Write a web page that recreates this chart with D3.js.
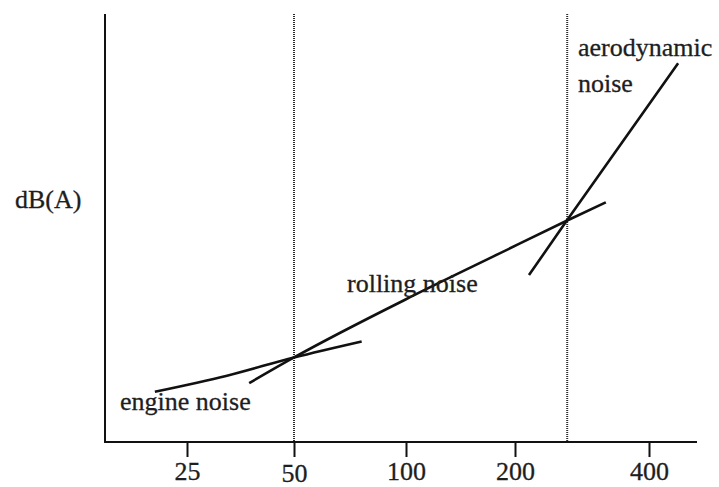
<!DOCTYPE html>
<head>
<meta charset="utf-8">
<script src="https://d3js.org/d3.v7.min.js"></script>
<style>
    body { margin: 0; background: #fff; }
    text {
        font-family: "Liberation Serif", "Times New Roman", serif;
        fill: #1e1e1e;
        stroke: #1e1e1e;
        stroke-width: 0.3px;
        font-size: 26px;
    }
    .curve {
        fill: none;
        stroke: #111;
        stroke-width: 2.6px;
    }
    .frame {
        stroke: #111;
        stroke-width: 2px;
    }
    .cross {
        stroke: #2a2a2a;
        stroke-width: 2px;
        stroke-dasharray: 1, 1;
    }
    .xAxis .tick line { stroke: #111; stroke-width: 2px; }
    .xAxis path { display: none; }
</style>
</head>
<body>
<svg width="719" height="487"></svg>
<script>
    // speed (km/h) on a log axis, sound level in dB(A) (relative, no ticks)
    var speedTicks = [25, 50, 100, 200, 400];
    var tickLabels = ["25", "50", "100", "200", "400"];

    var engineSpeed = [20.3, 32.4, 50, 76];
    var engineDb    = [59.7, 61.2, 62.9, 64.4];

    var rollingSpeed = [37.4, 50, 105, 182, 262, 320];
    var rollingDb    = [60.5, 62.9, 68.7, 72.65, 75.7, 77.4];

    var aeroSpeed = [215, 262, 465];
    var aeroDb    = [70.6, 75.75, 90.4];

    var crossSpeeds = [50, 262];

    // the hand drawn axis is not evenly spaced, so the log scale is piecewise
    var tickX = [82, 189, 301, 410, 544];

    var svg = d3.select("svg"),
        margin = {top: 14, right: 22, bottom: 45, left: 105},
        width = +svg.attr("width") - margin.left - margin.right,
        height = +svg.attr("height") - margin.top - margin.bottom,
        g = svg.append("g").attr("transform", "translate(" + margin.left + "," + margin.top + ")");

    var x = d3.scaleLog()
        .domain(speedTicks)
        .range(tickX);

    var y = d3.scaleLinear()
        .domain([55, 95])
        .range([height, 0]);

    // dotted crossover lines
    g.selectAll(".cross")
        .data(crossSpeeds)
        .enter().append("line")
        .attr("class", "cross")
        .attr("x1", function (d) { return x(d); })
        .attr("x2", function (d) { return x(d); })
        .attr("y1", 0)
        .attr("y2", height);

    // x axis
    var xAxis = g.append("g")
        .attr("class", "xAxis")
        .attr("transform", "translate(0," + height + ")")
        .call(d3.axisBottom(x)
            .tickValues(speedTicks)
            .tickFormat(function (d, i) { return tickLabels[i]; })
            .tickSize(15)
            .tickPadding(5));

    xAxis.selectAll("text")
        .attr("dy", "0.71em")
        .style("font-size", "26px");
    // the 50 label sits a little lower in the original
    xAxis.selectAll(".tick")
        .filter(function (d) { return d === 50; })
        .select("text")
        .attr("y", 22);

    // frame: y axis and x axis line
    g.append("line").attr("class", "frame")
        .attr("x1", 0).attr("x2", 0)
        .attr("y1", 0).attr("y2", height + 1);
    g.append("line").attr("class", "frame")
        .attr("x1", -1).attr("x2", width)
        .attr("y1", height).attr("y2", height);

    // noise curves
    var line = d3.line()
        .x(function (d) { return x(d[0]); })
        .y(function (d) { return y(d[1]); })
        .curve(d3.curveMonotoneX);

    var series = [
        d3.zip(engineSpeed, engineDb),
        d3.zip(rollingSpeed, rollingDb),
        d3.zip(aeroSpeed, aeroDb)
    ];

    g.selectAll(".curve")
        .data(series)
        .enter().append("path")
        .attr("class", "curve")
        .attr("d", line);

    // labels
    svg.append("text")
        .attr("x", 15)
        .attr("y", 208)
        .text("dB(A)");

    g.append("text")
        .attr("x", 15)
        .attr("y", 396)
        .text("engine noise");

    g.append("text")
        .attr("x", 242)
        .attr("y", 278)
        .text("rolling noise");

    g.append("text")
        .attr("x", 473)
        .attr("y", 42)
        .text("aerodynamic");

    g.append("text")
        .attr("x", 473)
        .attr("y", 78)
        .text("noise");
</script>
</body>
